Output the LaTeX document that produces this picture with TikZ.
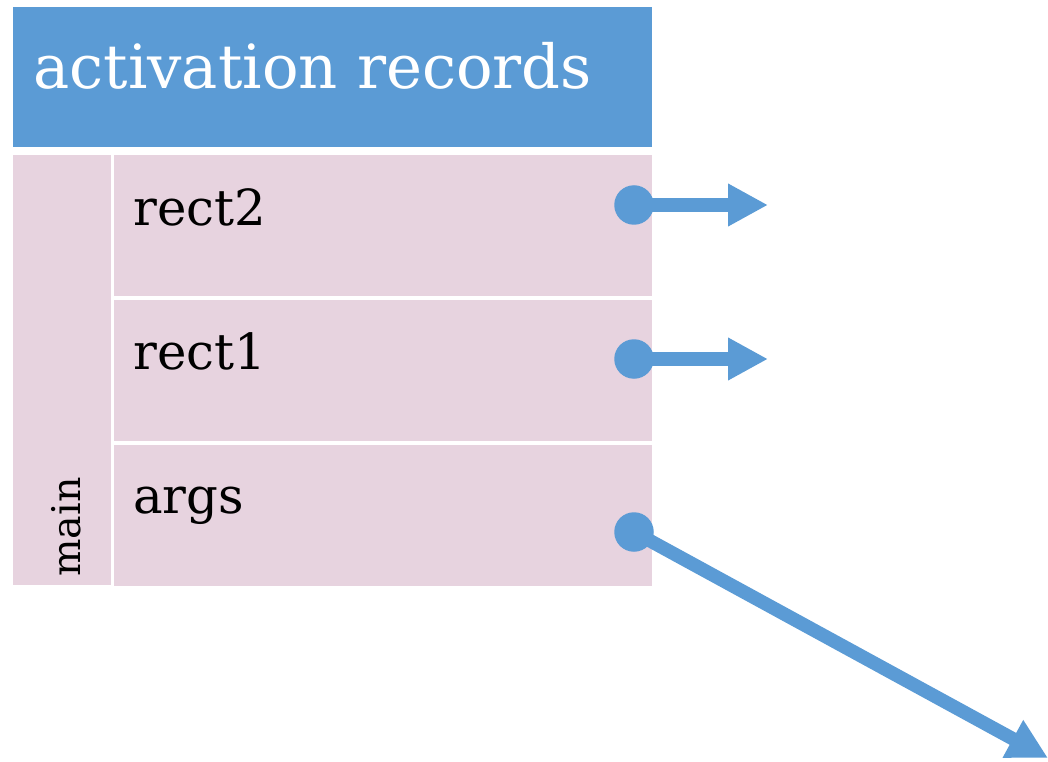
\documentclass[tikz,border=0pt]{standalone}
\usepackage{fontspec}
\setmainfont{DejaVu Serif}
\usetikzlibrary{positioning,arrows.meta}
\definecolor{recblue}{HTML}{5B9BD5}
\definecolor{recpink}{HTML}{E7D3DF}

\begin{document}
\begin{tikzpicture}[x=0.2mm, y=-0.2mm,               % one unit is one pixel of the slide
      node distance=0.6mm,                             % white gap between the stacked cells
      head/.style={fill=recblue, minimum width=127.8mm, minimum height=28mm,
                   inner sep=0, anchor=north west},    % title bar
      slot/.style={fill=recpink, minimum width=107.6mm, minimum height=28.2mm,
                   inner sep=0, anchor=north west},    % one variable of the frame
      frame/.style={fill=recpink, minimum width=19.6mm, minimum height=86mm,
                    inner sep=0, anchor=north west},   % column with the method name
      lbl/.style={inner sep=0, anchor=base west, font=\fontsize{28.3pt}{34pt}\selectfont},
      dot/.style={circle, fill=recblue, minimum size=7.9mm, inner sep=0},
      ptr/.style={recblue, line width=2.7mm, -{Triangle[length=8mm, width=8mm]}}]
    \useasboundingbox (0,0) rectangle (1048,762);
    \node[head] (hdr) at (13,7) {};
    \node[inner sep=0, anchor=base west, text=white,
          font=\fontsize{34.6pt}{40pt}\selectfont] (title) at (33,89) {activation records};
    \node[frame] (mainc) at (13,155) {};
    \node[slot] (r2) at (114,155) {};
    \node[slot, below=of r2] (r1) {};
    \node[slot, below=of r1] (ar) {};
    \node[inner sep=0, anchor=base west, rotate=90,
          font=\fontsize{22.5pt}{27pt}\selectfont] (mname) at (80,577) {main};
    \node[lbl] (l2) at (133,226) {rect2};
    \node[lbl] (l1) at (133,369) {rect1};
    \node[lbl] (la) at (133,513) {args};
    % references held by the local variables
    \node[dot] (p2) at (634,205) {};
    \node[dot] (p1) at (634,359) {};
    \node[dot] (pa) at (634,532) {};
    \coordinate (t2) at (768,205);
    \coordinate (t1) at (768,359);
    \coordinate (ta) at (1048,758);
    \draw[ptr] (p2.center) -- (t2);
    \draw[ptr] (p1.center) -- (t1);
    \draw[ptr] (pa.center) -- (ta);
  \end{tikzpicture}
\end{document}
